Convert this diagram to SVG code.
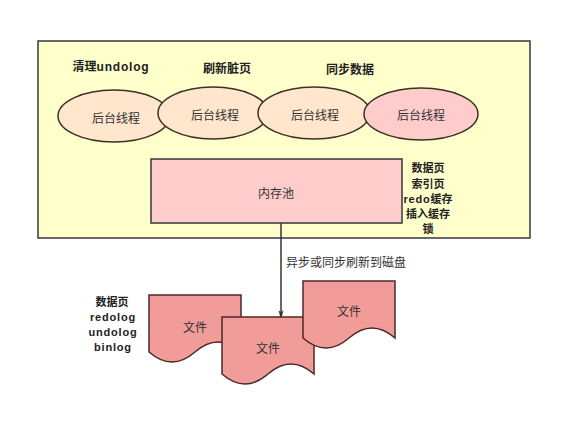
<svg xmlns="http://www.w3.org/2000/svg" width="588" height="429" viewBox="0 0 588 429">
<style>
.b{font-family:"Liberation Sans","Noto Sans CJK SC",sans-serif;font-size:12px;font-weight:bold;fill:#222;text-anchor:middle;dominant-baseline:central}
.s{font-size:11px}
.w{letter-spacing:0.8px}
.t{font-family:"Noto Sans CJK SC","Liberation Sans",sans-serif;font-size:12px;fill:#333;text-anchor:middle;dominant-baseline:central}
.el{fill:#ffe6cc;stroke:#3b3125;stroke-width:1.5}
.doc{fill:#f19c99;stroke:#4a2a27;stroke-width:1.5}
</style>
<defs>
<marker id="ah" markerWidth="10" markerHeight="16" refX="8" refY="4" orient="auto" markerUnits="userSpaceOnUse" viewBox="0 0 16 8">
<path d="M0,0 L16,4 L0,8 L4,4 Z" fill="#333"/>
</marker>
<path id="docshape" d="M0,0 H92 V57 Q69,37 46,57 Q23,77 0,57 Z"/>
</defs>
<rect width="588" height="429" fill="#ffffff"/>
<g id="container">
<rect x="38" y="41" width="492" height="197" fill="#ffffcc" stroke="#36393d" stroke-width="1.5"/>
</g>
<g id="labels">
<text class="b" x="111" y="67">清理<tspan class="w">undolog</tspan></text>
<text class="b" x="227" y="69">刷新脏页</text>
<text class="b" x="350" y="70">同步数据</text>
<text class="b s" x="428" y="168">数据页</text>
<text class="b s" x="428" y="184">索引页</text>
<text class="b s" x="428" y="199"><tspan class="w">redo</tspan>缓存</text>
<text class="b s" x="428" y="214">插入缓存</text>
<text class="b s" x="428" y="229">锁</text>
<text class="b s" x="112" y="302">数据页</text>
<text class="b s w" x="113" y="317">redolog</text>
<text class="b s w" x="113" y="332">undolog</text>
<text class="b s w" x="113" y="347">binlog</text>
</g>
<g id="thread1"><ellipse class="el" cx="114" cy="116" rx="56" ry="26"/><text class="t" x="116" y="117">后台线程</text></g>
<g id="thread2"><ellipse class="el" cx="213" cy="113" rx="55" ry="26"/><text class="t" x="215" y="114">后台线程</text></g>
<g id="thread3"><ellipse class="el" cx="314" cy="113" rx="56" ry="26"/><text class="t" x="315" y="114">后台线程</text></g>
<g id="thread4"><ellipse class="el" cx="421" cy="114" rx="57" ry="26" style="fill:#ffcccc"/><text class="t" x="421" y="114">后台线程</text></g>
<g id="pool"><rect x="151" y="159" width="251" height="64" fill="#ffcccc" stroke="#36393d" stroke-width="1.5"/><text class="t" x="276" y="192">内存池</text></g>
<g id="connectors">
<line x1="281" y1="223" x2="281" y2="315" stroke="#333" stroke-width="1.5" marker-end="url(#ah)"/>
<text class="t" x="346" y="261">异步或同步刷新到磁盘</text>
</g>
<g id="file1"><use href="#docshape" class="doc" x="149" y="295"/><text class="t" x="195" y="326">文件</text></g>
<g id="file2"><use href="#docshape" class="doc" x="222" y="317"/><text class="t" x="268" y="347">文件</text></g>
<g id="file3"><use href="#docshape" class="doc" x="303" y="281"/><text class="t" x="349" y="310">文件</text></g>
</svg>
